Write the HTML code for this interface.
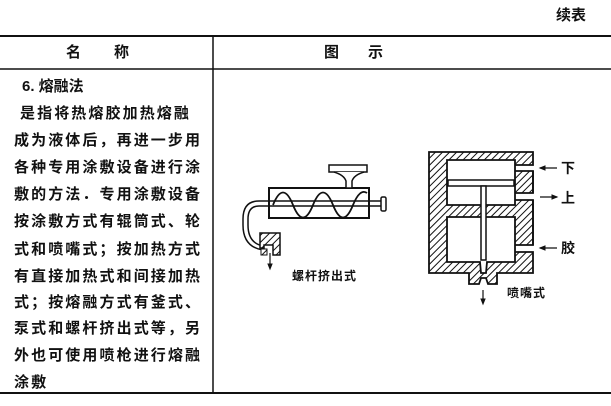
<!DOCTYPE html>
<html><head><meta charset="utf-8"><style>
body{margin:0;width:611px;height:406px;background:#fff;overflow:hidden;position:relative;font-family:"Liberation Sans","Noto Sans CJK SC",sans-serif;color:#111}
.t{position:absolute;font-size:15px;font-weight:bold;letter-spacing:2.1px;white-space:nowrap;line-height:18px}
</style></head><body>
<div class="t" style="left:556px;top:7px;letter-spacing:0">续表</div>
<div class="t" style="left:66px;top:44px;letter-spacing:0">名</div>
<div class="t" style="left:114px;top:44px;letter-spacing:0">称</div>
<div class="t" style="left:324px;top:44px;letter-spacing:0">图</div>
<div class="t" style="left:368px;top:44px;letter-spacing:0">示</div>
<div class="t" style="left:22px;top:78px;letter-spacing:0">6. 熔融法</div>
<div class="t" style="left:20px;top:105px">是指将热熔胶加热熔融</div>
<div class="t" style="left:14px;top:132px">成为液体后，再进一步用</div>
<div class="t" style="left:14px;top:159px">各种专用涂敷设备进行涂</div>
<div class="t" style="left:14px;top:186px">敷的方法．专用涂敷设备</div>
<div class="t" style="left:14px;top:213px">按涂敷方式有辊筒式、轮</div>
<div class="t" style="left:14px;top:241px">式和喷嘴式；按加热方式</div>
<div class="t" style="left:14px;top:268px">有直接加热式和间接加热</div>
<div class="t" style="left:14px;top:294px">式；按熔融方式有釜式、</div>
<div class="t" style="left:14px;top:320px">泵式和螺杆挤出式等，另</div>
<div class="t" style="left:14px;top:347px">外也可使用喷枪进行熔融</div>
<div class="t" style="left:14px;top:374px">涂敷</div>
<svg width="611" height="406" style="position:absolute;left:0;top:0" xmlns="http://www.w3.org/2000/svg">
<defs><pattern id="h" width="5" height="5" patternUnits="userSpaceOnUse" patternTransform="rotate(45)"><rect width="5" height="5" fill="#fff"/><line x1="0" y1="0" x2="0" y2="5" stroke="#111" stroke-width="2"/></pattern></defs>
<g stroke="#111" fill="none">
<line x1="0" y1="36" x2="611" y2="36" stroke-width="2"/>
<line x1="0" y1="69" x2="611" y2="69" stroke-width="1.5"/>
<line x1="0" y1="393" x2="611" y2="393" stroke-width="2"/>
<line x1="213" y1="36" x2="213" y2="393" stroke-width="1.5"/>
<!-- screw extruder -->
<rect x="269" y="188" width="100" height="30" stroke-width="2"/>
<path d="M329 165 h38 v7 h-38z" fill="#fff" stroke-width="1.5"/>
<path d="M334 172 q10 3 12 9 v7 h6 v-7 q2 -6 12 -9" fill="#fff" stroke-width="1.5"/>
<path d="M273 205 q10 -25 20 0 q10 25 20 0 q10 -25 20 0 q10 25 20 0 q7 -17 14 -12" stroke-width="1.8"/>
<line x1="268" y1="201" x2="382" y2="201" stroke-width="1.5"/>
<line x1="268" y1="206" x2="382" y2="206" stroke-width="1.5"/>
<rect x="381" y="197" width="5" height="14" rx="1.5" fill="#fff" stroke-width="1.5"/>
<path d="M269 201 h-10 q-16 0 -16 18 v6 q0 22 20 25" stroke-width="1.5"/>
<path d="M269 206 h-10 q-11 0 -11 13 v6 q0 18 15 21" stroke-width="1.5"/>
<path d="M260 233 h20 v22 h-7 v-10 h-9 v3 h-4z" fill="url(#h)" stroke-width="1.5"/>
<rect x="261" y="249" width="6" height="6" fill="url(#h)" stroke-width="1"/>
<line x1="270" y1="253" x2="270" y2="268" stroke-width="1.2"/>
<path d="M268 264 l2 5 l2 -5z" fill="#111"/>
<!-- nozzle -->
<path fill-rule="evenodd" fill="url(#h)" stroke-width="1.8" d="M429 152 H533 V165 H515 V171 H533 V193 H515 V200 H533 V245 H515 V252 H533 V273 H497 V284 H488 L486 278 H481 L479 284 H469 V273 H429 Z M447 160 V205 H515 V160 Z M447 217 V262 H480 L481 273 H486 L487 262 H515 V217 Z"/>
<path d="M533 171 V193 M533 200 V245" stroke-width="1.8"/>
<rect x="448" y="180" width="66" height="6" fill="#fff" stroke-width="1.5"/>
<rect x="481" y="186" width="5" height="74" fill="#fff" stroke-width="1.5"/>
<line x1="483" y1="290" x2="483" y2="303" stroke-width="1.2"/>
<path d="M481 299 l2 5 l2 -5z" fill="#111"/>
<line x1="540" y1="168" x2="557" y2="168" stroke-width="1.3"/>
<path d="M540 168 l5 -2 v4z" fill="#111"/>
<line x1="540" y1="197" x2="557" y2="197" stroke-width="1.3"/>
<path d="M557 197 l-5 -2 v4z" fill="#111"/>
<line x1="540" y1="248" x2="557" y2="248" stroke-width="1.3"/>
<path d="M540 248 l5 -2 v4z" fill="#111"/>
</g>
</svg>
<div class="t" style="left:292px;top:267px;font-size:12px;letter-spacing:1px">螺杆挤出式</div>
<div class="t" style="left:507px;top:284px;font-size:12px;letter-spacing:1px">喷嘴式</div>
<div class="t" style="left:561px;top:159px;font-size:14px">下</div>
<div class="t" style="left:561px;top:189px;font-size:14px">上</div>
<div class="t" style="left:561px;top:239px;font-size:14px">胶</div>
</body></html>
